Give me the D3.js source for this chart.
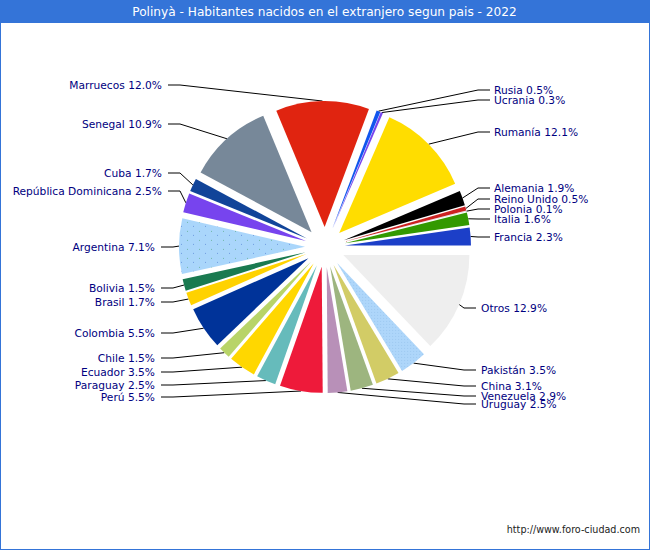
<!DOCTYPE html>
<html lang="es">
<head>
<meta charset="UTF-8">
<title>Polinyà - Habitantes nacidos en el extranjero</title>
<script src="https://d3js.org/d3.v7.min.js"></script>
<style>
    html, body { margin: 0; padding: 0; background: #fff; }
    text { font-family: "DejaVu Sans", sans-serif; }
</style>
</head>
<body>
<div id="chart"></div>
<script>
// order follows the pie, counter clockwise from 3 o'clock
const paises = ["Francia", "Italia", "Polonia", "Reino Unido", "Alemania", "Rumanía", "Ucrania", "Rusia",
    "Marruecos", "Senegal", "Cuba", "República Dominicana", "Argentina", "Bolivia", "Brasil", "Colombia",
    "Chile", "Ecuador", "Paraguay", "Perú", "Uruguay", "Venezuela", "China", "Pakistán", "Otros"];
const porcentajes = [2.3, 1.6, 0.1, 0.5, 1.9, 12.1, 0.3, 0.5,
    12.0, 10.9, 1.7, 2.5, 7.1, 1.5, 1.7, 5.5,
    1.5, 3.5, 2.5, 5.5, 2.5, 2.9, 3.1, 3.5, 12.9];
const colores = ["#1c3fc8", "#339900", "#dddddd", "#cc2222", "#000000", "#ffdd00", "#7744ee", "#1155ee",
    "#e02410", "#778899", "#114499", "#7744ee", "#aad6fb", "#1a7a50", "#ffd200", "#003399",
    "#b8d468", "#ffd700", "#66bbbb", "#ee1a3a", "#b890b8", "#9db57f", "#d2cc66", "#aed6fa", "#eeeeee"];

// hand placed label rows, same order as paises
const labelY = [237, 219, 209, 199, 188, 132, 100, 90,
    85, 124, 173, 191, 247, 288, 302, 333,
    358, 372, 385, 397, 404, 396, 386, 370, 308];

const width = 650, height = 550;
const cx = 325, cy = 247, radius = 126, explode = 20;

const svg = d3.select("#chart").append("svg")
    .attr("width", width)
    .attr("height", height)
    .style("display", "block");

// frame and title band
svg.append("rect").attr("x", 0.5).attr("y", 0.5).attr("width", width - 1).attr("height", height - 1)
    .attr("fill", "#fff").attr("stroke", "#3474d8");
svg.append("rect").attr("width", width).attr("height", 23).attr("fill", "#3474d8");
svg.append("text").attr("x", width / 2 - 0.5).attr("y", 16).attr("text-anchor", "middle")
    .attr("font-size", 12.15).attr("fill", "#fff")
    .text("Polinyà - Habitantes nacidos en el extranjero segun pais - 2022");
svg.append("text").attr("x", 640).attr("y", 533).attr("text-anchor", "end")
    .attr("font-size", 9.6).attr("fill", "#222")
    .text("http://www.foro-ciudad.com");

// dotted fills for Argentina and Pakistán
const defs = svg.append("defs");
const pat = defs.append("pattern").attr("id", "puntos")
    .attr("width", 12).attr("height", 9).attr("patternUnits", "userSpaceOnUse");
pat.append("rect").attr("width", 12).attr("height", 9).attr("fill", "#aad6fb");
pat.append("rect").attr("x", 2).attr("y", 2).attr("width", 1).attr("height", 1).attr("fill", "#6fb6a8");
pat.append("rect").attr("x", 8).attr("y", 6).attr("width", 1).attr("height", 1).attr("fill", "#6f9be0");
const pat2 = defs.append("pattern").attr("id", "fino")
    .attr("width", 3).attr("height", 3).attr("patternUnits", "userSpaceOnUse");
pat2.append("rect").attr("width", 3).attr("height", 3).attr("fill", "#aed6fa");
pat2.append("rect").attr("x", 1).attr("y", 1).attr("width", 1).attr("height", 1).attr("fill", "#9cc8f0");

const rellenos = { "Argentina": "url(#puntos)", "Pakistán": "url(#fino)" };

const datos = paises.map((p, i) => ({ pais: p, pct: porcentajes[i], color: colores[i], y: labelY[i] }));

// d3 angles run clockwise from 12 o'clock, this pie runs the other way from 3 o'clock
const pie = d3.pie().sort(null).value(d => d.pct)
    .startAngle(Math.PI / 2).endAngle(Math.PI / 2 - 2 * Math.PI);
const arc = d3.arc().innerRadius(0).outerRadius(radius);

const porciones = pie(datos);
porciones.forEach(s => {
    s.mid = (s.startAngle + s.endAngle) / 2;
    s.ox = Math.sin(s.mid) * explode;
    s.oy = -Math.cos(s.mid) * explode;
    s.dcha = Math.sin(s.mid) > 0;
    s.arriba = Math.cos(s.mid) > 0.05;
    // the lower labels sit closer in on the right and further out on the left
    s.finLinea = s.dcha ? (s.arriba ? 165 : 151) : (s.arriba ? -157 : -164);
    s.xTexto = s.dcha ? (s.arriba ? 169 : 156) : (s.arriba ? -163 : -170);
});

const g = svg.append("g").attr("transform", `translate(${cx},${cy})`);

// leader lines go under the slices
g.selectAll(".linea").data(porciones).join("polyline")
    .attr("class", "linea")
    .attr("fill", "none")
    .attr("stroke", "#000")
    .attr("stroke-width", 1)
    .attr("points", s => {
        const codo = s.finLinea + (s.dcha ? -12 : 12);
        const ax = Math.sin(s.mid) * (radius + explode);
        const ay = -Math.cos(s.mid) * (radius + explode);
        const ly = s.data.y - cy;
        return `${ax},${ay} ${codo},${ly} ${s.finLinea},${ly}`;
    });

g.selectAll(".porcion").data(porciones).join("path")
    .attr("class", "porcion")
    .attr("d", arc)
    .attr("transform", s => `translate(${s.ox},${s.oy})`)
    .attr("fill", s => rellenos[s.data.pais] || s.data.color);

g.selectAll(".etiqueta").data(porciones).join("text")
    .attr("class", "etiqueta")
    .attr("font-size", 10.67)
    .attr("fill", "#000080")
    .attr("dy", "0.35em")
    .attr("y", s => s.data.y - cy)
    .attr("x", s => s.xTexto)
    .attr("text-anchor", s => s.dcha ? "start" : "end")
    .text(s => `${s.data.pais} ${s.data.pct.toFixed(1)}%`);
</script>
</body>
</html>
